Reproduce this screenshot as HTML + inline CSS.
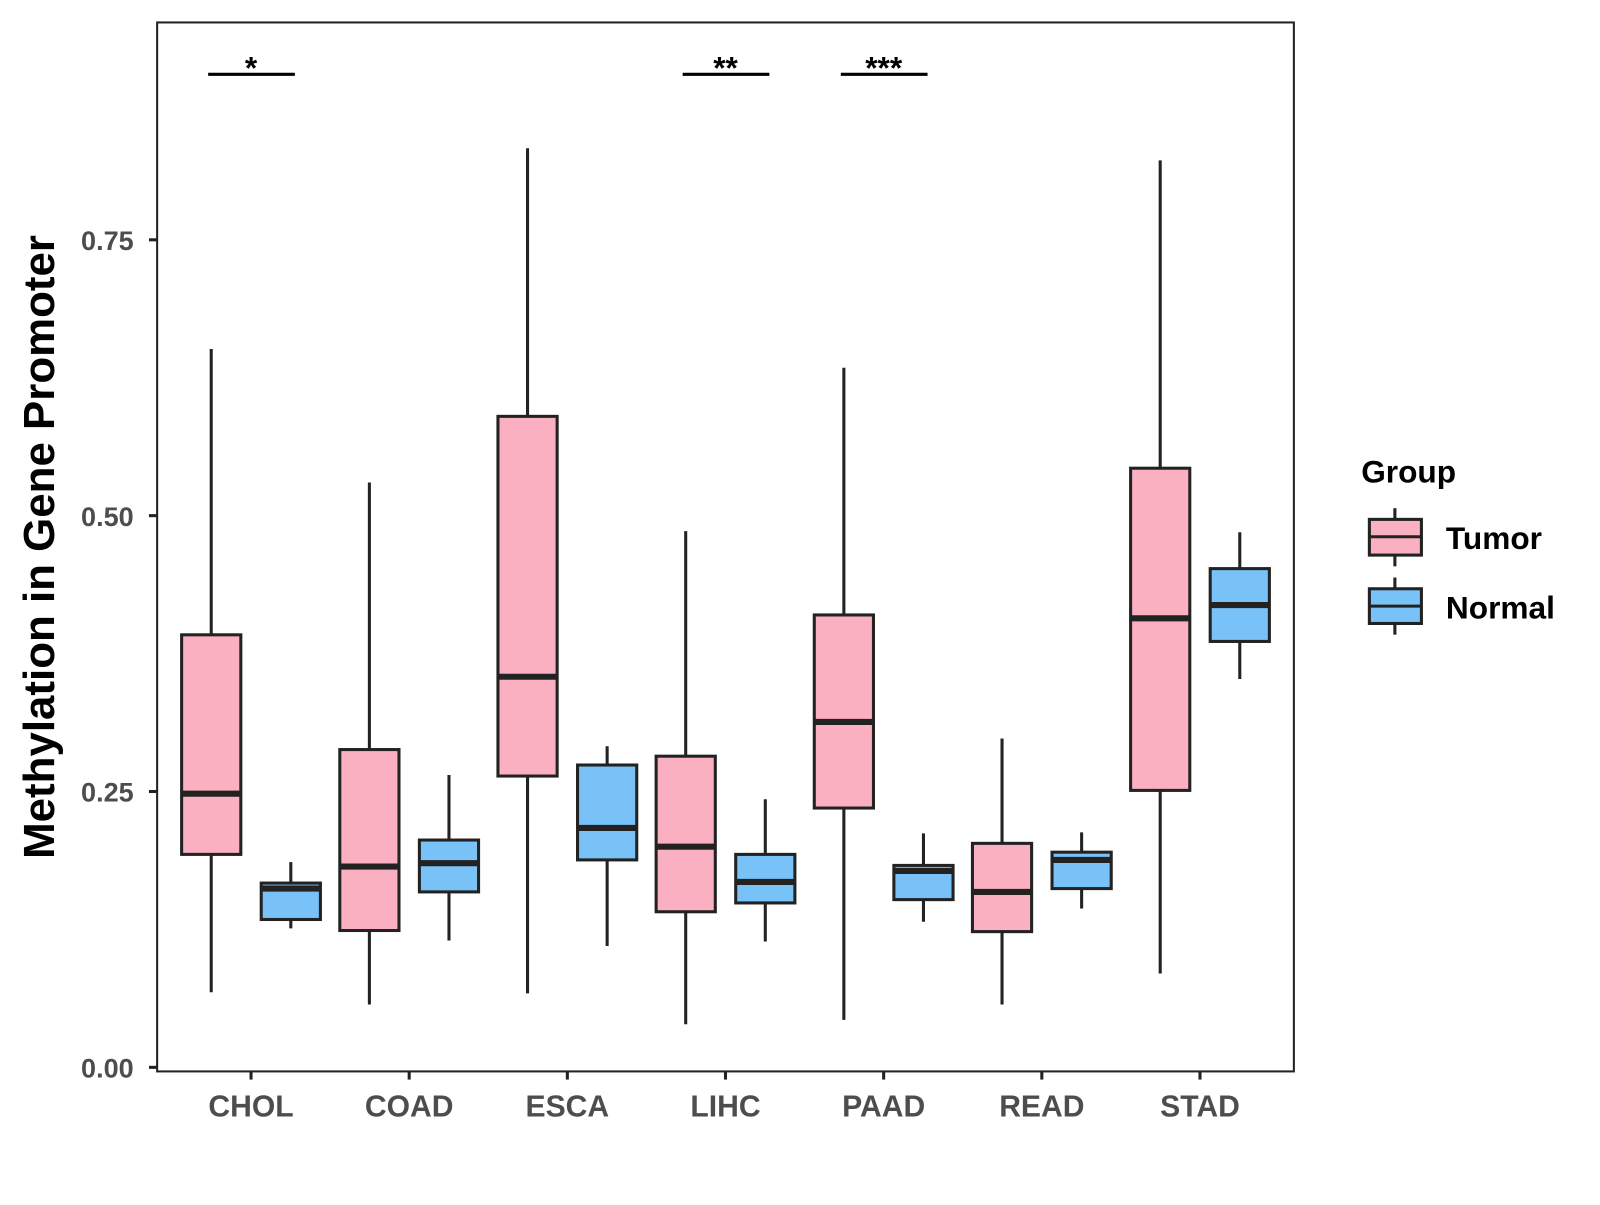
<!DOCTYPE html>
<html><head><meta charset="utf-8"><style>
body{margin:0;background:#fff}
svg text{font-family:"Liberation Sans",Arial,sans-serif;font-weight:bold}
</style></head><body>
<svg id="chart" width="1600" height="1200" xmlns="http://www.w3.org/2000/svg">
<rect x="0" y="0" width="1600" height="1200" fill="#fff"/>
<g transform="scale(1.0204)">
<g id="marks"></g>
<rect x="154" y="22" width="1114" height="1028" fill="none" stroke="#222" stroke-width="2"/>
<text transform="translate(53,536) rotate(-90)" text-anchor="middle" font-size="43" fill="#000">Methylation in Gene Promoter</text>
<text x="1334" y="473" font-size="31" fill="#000">Group</text>
<g>
<line x1="1367" y1="498" x2="1367" y2="555" stroke="#222" stroke-width="3"/>
<rect x="1342" y="509" width="51" height="35" fill="#FBB0C2" stroke="#222" stroke-width="3"/>
<line x1="1342" y1="526" x2="1393" y2="526" stroke="#222" stroke-width="3"/>
<text x="1417" y="538" font-size="31" fill="#000">Tumor</text></g>
<g>
<line x1="1367" y1="566" x2="1367" y2="622" stroke="#222" stroke-width="3"/>
<rect x="1342" y="577" width="51" height="34" fill="#78C2F7" stroke="#222" stroke-width="3"/>
<line x1="1342" y1="594" x2="1393" y2="594" stroke="#222" stroke-width="3"/>
<text x="1417" y="606" font-size="31" fill="#000">Normal</text></g>
</g>
</svg>
<script>
const categories=["CHOL","COAD","ESCA","LIHC","PAAD","READ","STAD"];
// [low, q1, median, q3, high]
const tumorStats=[[0.068,0.193,0.248,0.392,0.651],[0.057,0.124,0.182,0.288,0.530],[0.067,0.264,0.354,0.590,0.833],[0.039,0.141,0.200,0.282,0.486],[0.043,0.235,0.313,0.410,0.634],[0.057,0.123,0.159,0.203,0.298],[0.085,0.251,0.407,0.543,0.822]];
const normalStats=[[0.126,0.134,0.162,0.167,0.186],[0.115,0.159,0.185,0.206,0.265],[0.110,0.188,0.217,0.274,0.291],[0.114,0.149,0.168,0.193,0.243],[0.132,0.152,0.178,0.183,0.212],[0.144,0.162,0.188,0.195,0.213],[0.352,0.386,0.419,0.452,0.485]];
const yTicks=[0,0.25,0.5,0.75];
const yTickLabels=["0.00","0.25","0.50","0.75"];
const signifCats=["CHOL","LIHC","PAAD"];
const signifLabels=["*","**","***"];
const signifLevel=0.900;

const NS="http://www.w3.org/2000/svg";
const g=document.getElementById('marks');
const y=v=>1046-v*1081.3;
const x=i=>246+i*155;
function el(t,a,p){const e=document.createElementNS(NS,t);for(const k in a)e.setAttribute(k,a[k]);(p||g).appendChild(e);return e;}
yTicks.forEach((t,i)=>{
  const tk=el('line',{x1:146,x2:154,y1:y(t),y2:y(t),stroke:'#222','stroke-width':3});
  
  
  const tx=el('text',{x:131,y:y(t)+10,'text-anchor':'end','font-size':26.5,fill:'#4d4d4d'});
  tx.textContent=yTickLabels[i];
  
  
});
categories.forEach((c,i)=>{
  const tk=el('line',{x1:x(i),x2:x(i),y1:1050,y2:1058,stroke:'#222','stroke-width':3});
  
  
  const tx=el('text',{x:x(i),y:1094,'text-anchor':'middle','font-size':29.5,fill:'#4d4d4d'});
  tx.textContent=c;
  
  
  [[tumorStats[i],-39,'#FBB0C2','tumor'],[normalStats[i],39,'#78C2F7','normal']].forEach(([s,off,fill,nm])=>{
    const cx=x(i)+off;
    const bg=el('g',{});
    
    
    el('line',{x1:cx,x2:cx,y1:y(s[0]),y2:y(s[4]),stroke:'#222','stroke-width':3},bg);
    el('rect',{x:cx-29,y:y(s[3]),width:58,height:y(s[1])-y(s[3]),fill:fill,stroke:'#222','stroke-width':3},bg);
    el('line',{x1:cx-29,x2:cx+29,y1:y(s[2]),y2:y(s[2]),stroke:'#222','stroke-width':6},bg);
  });
});
signifCats.forEach((c,k)=>{
  const i=categories.indexOf(c);
  const sg=el('g',{});
  
  
  el('line',{x1:x(i)-42,x2:x(i)+43,y1:y(signifLevel),y2:y(signifLevel),stroke:'#000','stroke-width':3},sg);
  const t=el('text',{x:x(i),y:y(signifLevel)+4,'text-anchor':'middle','font-size':31,fill:'#000'},sg);
  t.textContent=signifLabels[k];
});
</script>
</body></html>
